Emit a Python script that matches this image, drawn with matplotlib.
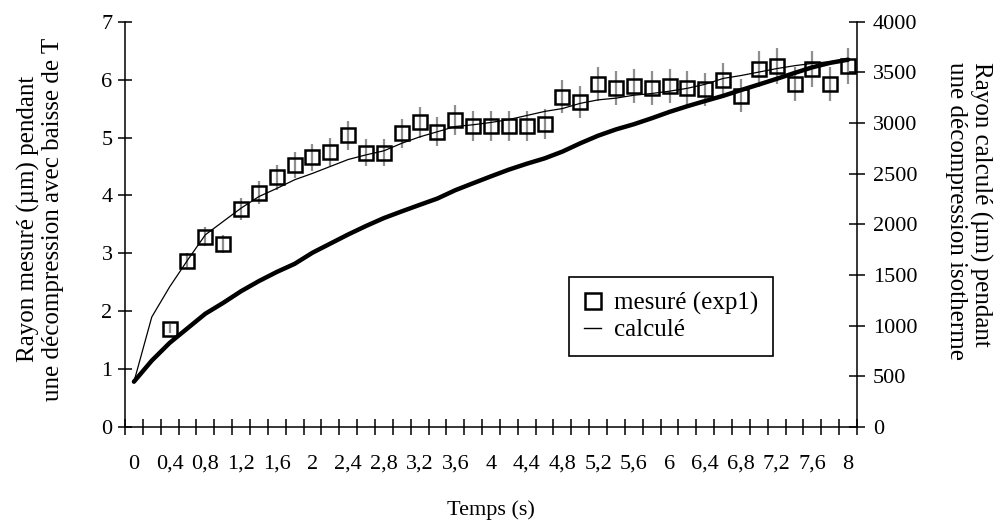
import matplotlib
matplotlib.use("Agg")
import matplotlib.pyplot as plt
from matplotlib.lines import Line2D
import numpy as np

plt.rcParams['font.family'] = ['Liberation Serif', 'DejaVu Serif']

# ---- data ----
time_calc = [0, 0.2, 0.4, 0.6, 0.8, 1.0, 1.2, 1.4, 1.6, 1.8, 2.0, 2.2, 2.4, 2.6, 2.8, 3.0,
             3.2, 3.4, 3.6, 3.8, 4.0, 4.2, 4.4, 4.6, 4.8, 5.0, 5.2, 5.4, 5.6, 5.8, 6.0,
             6.2, 6.4, 6.6, 6.8, 7.0, 7.2, 7.4, 7.6, 7.8, 8.0]

time_meas = [0.4, 0.6, 0.8, 1.0, 1.2, 1.4, 1.6, 1.8, 2.0, 2.2, 2.4, 2.6, 2.8, 3.0,
             3.2, 3.4, 3.6, 3.8, 4.0, 4.2, 4.4, 4.6, 4.8, 5.0, 5.2, 5.4, 5.6, 5.8, 6.0,
             6.2, 6.4, 6.6, 6.8, 7.0, 7.2, 7.4, 7.6, 7.8, 8.0]
rayon_mesure = [1.70, 2.87, 3.29, 3.16, 3.76, 4.05, 4.31, 4.53, 4.66, 4.75, 5.04, 4.74,
                4.74, 5.07, 5.26, 5.10, 5.30, 5.20, 5.20, 5.20, 5.20, 5.23, 5.70, 5.61,
                5.92, 5.86, 5.89, 5.86, 5.89, 5.86, 5.83, 5.99, 5.72, 6.18, 6.24, 5.92,
                6.18, 5.92, 6.24]
error_pct = 5  # percentage error bars

# thin curve (left axis)
rayon_ajuste = [0.78, 1.90, 2.42, 2.88, 3.32, 3.55, 3.78, 3.98, 4.12, 4.27, 4.38, 4.50,
                4.62, 4.70, 4.77, 4.90, 5.01, 5.10, 5.19, 5.22, 5.26, 5.31, 5.38, 5.45,
                5.50, 5.59, 5.65, 5.68, 5.73, 5.76, 5.80, 5.85, 5.92, 6.02, 6.07, 6.13,
                6.19, 6.24, 6.28, 6.31, 6.34]

# thick curve (right axis)
rayon_calcule = [447, 655, 830, 974, 1118, 1225, 1340, 1440, 1530, 1610, 1720, 1810,
                 1900, 1984, 2062, 2128, 2192, 2255, 2337, 2406, 2474, 2540, 2598, 2651,
                 2718, 2800, 2875, 2937, 2988, 3047, 3110, 3166, 3218, 3268, 3325, 3380,
                 3436, 3494, 3550, 3594, 3625]

x_tick_values = [0, 0.4, 0.8, 1.2, 1.6, 2, 2.4, 2.8, 3.2, 3.6, 4, 4.4, 4.8, 5.2, 5.6,
                 6, 6.4, 6.8, 7.2, 7.6, 8]
x_tick_labels = ['0', '0,4', '0,8', '1,2', '1,6', '2', '2,4', '2,8', '3,2', '3,6', '4',
                 '4,4', '4,8', '5,2', '5,6', '6', '6,4', '6,8', '7,2', '7,6', '8']
y_left_ticks = [0, 1, 2, 3, 4, 5, 6, 7]
y_right_ticks = [0, 500, 1000, 1500, 2000, 2500, 3000, 3500, 4000]

# ---- figure ----
fig = plt.figure(figsize=(9.98, 5.32), dpi=100)
ax = fig.add_axes([125/998, 1-427/532, (857-125)/998, (427-21.7)/532])
ax2 = ax.twinx()

ax.set_xlim(-0.1, 8.1)
ax.set_ylim(0, 7)
ax2.set_ylim(0, 4000)

yerr = np.array(rayon_mesure) * error_pct / 100.0
ax.errorbar(time_meas, rayon_mesure, yerr=yerr, fmt='none', ecolor='#8f8f8f',
            elinewidth=1.6, capsize=0, zorder=2)
ax.plot(time_calc, rayon_ajuste, color='black', lw=0.9, zorder=3)
ax.plot(time_meas, rayon_mesure, ls='none', marker='s', ms=10.5, mfc='none',
        mec='black', mew=1.8, zorder=4)
ax2.plot(time_calc, rayon_calcule, color='black', lw=3.2, solid_capstyle='round',
         solid_joinstyle='round', zorder=5)

# spines
for a in (ax, ax2):
    a.spines['top'].set_visible(False)
    a.patch.set_visible(False)
ax.spines['right'].set_visible(False)
ax2.spines['left'].set_visible(False)
ax2.spines['bottom'].set_visible(False)
for sp in ('left', 'bottom'):
    ax.spines[sp].set_linewidth(1.1)
ax2.spines['right'].set_linewidth(1.1)

# x ticks: labels at category centres, tick marks at category boundaries
ax.set_xticks(x_tick_values)
ax.set_xticklabels(x_tick_labels)
ax.set_xticks(np.arange(-0.1, 8.11, 0.2), minor=True)
ax.tick_params(axis='x', which='major', length=0, pad=20, labelsize=16)
ax.tick_params(axis='x', which='minor', direction='inout', length=11, width=1.1)

ax.set_yticks(y_left_ticks)
ax.tick_params(axis='y', direction='inout', length=10, width=1.1, labelsize=16, pad=4)
ax2.set_yticks(y_right_ticks)
ax2.tick_params(axis='y', direction='inout', length=11, width=1.1, labelsize=16, pad=6)

ax.set_xlabel('Temps (s)', fontsize=16, labelpad=19)
ax.set_ylabel('Rayon mesuré (µm) pendant\nune décompression avec baisse de T',
              fontsize=18, linespacing=1.1)
ax.yaxis.set_label_coords(-0.084, (427-219)/405.3)
ax2.set_ylabel('Rayon calculé (µm) pendant\nune décompression isotherme',
               fontsize=18, linespacing=1.1, rotation=-90, va='bottom',
               multialignment='left', labelpad=20)
ax2.yaxis.label.set_y((427-211)/405.3)

handles = [Line2D([], [], ls='none', marker='s', ms=11, mfc='none', mec='black', mew=1.8),
           Line2D([], [], color='black', lw=1.0)]
leg = ax.legend(handles, ['mesuré (exp1)', 'calculé'], loc='upper left',
                bbox_to_anchor=((569-125)/732, (427-277)/405.3), borderaxespad=0,
                fontsize=18, frameon=True, fancybox=False, framealpha=1,
                edgecolor='black', handlelength=0.7, handletextpad=0.5,
                labelspacing=0.15, borderpad=0.6)
leg.get_frame().set_linewidth(1.2)

fig.savefig('out.png', dpi=100)
